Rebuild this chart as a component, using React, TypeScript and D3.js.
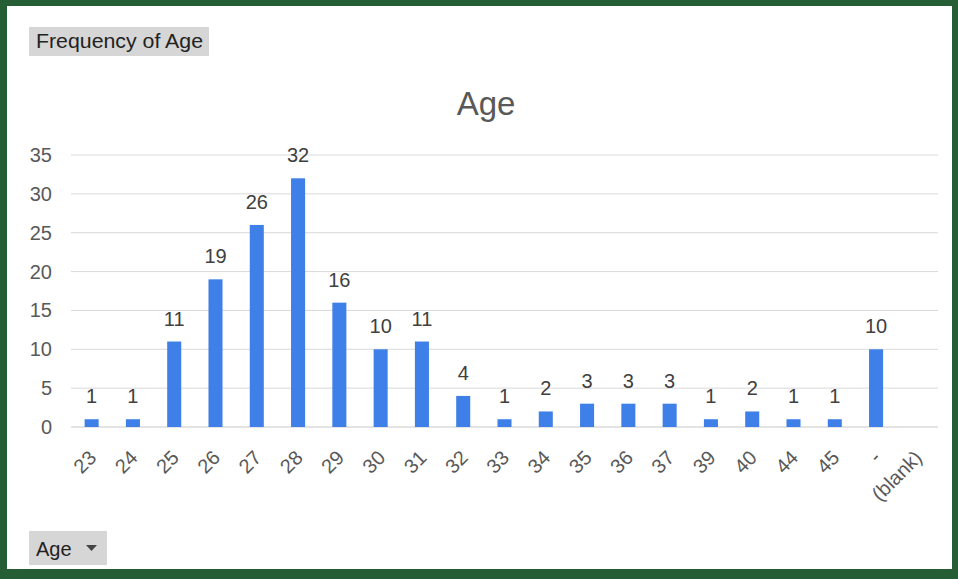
import React, { useEffect, useRef } from 'react';
import * as d3 from 'd3';

const categories = ['23', '24', '25', '26', '27', '28', '29', '30', '31', '32', '33', '34', '35', '36', '37', '39', '40', '44', '45', '-', '(blank)'];
const counts: (number | null)[] = [1, 1, 11, 19, 26, 32, 16, 10, 11, 4, 1, 2, 3, 3, 3, 1, 2, 1, 1, 10, null];
const yTicks = [0, 5, 10, 15, 20, 25, 30, 35];

const W = 958;
const H = 579;

const App: React.FC = () => {
  const svgRef = useRef<SVGSVGElement>(null);

  useEffect(() => {
    if (!svgRef.current) return;
    const svg = d3.select(svgRef.current);
    svg.selectAll('*').remove();

    const font = 'Arial, "Liberation Sans", sans-serif';

    // green frame + white panel
    svg.append('rect').attr('width', W).attr('height', H).attr('fill', '#255e35');
    svg.append('rect')
      .attr('x', 7).attr('y', 6)
      .attr('width', 945).attr('height', 563)
      .attr('fill', '#ffffff');

    // "Frequency of Age" field button
    svg.append('rect')
      .attr('x', 29).attr('y', 27).attr('width', 180).attr('height', 29)
      .attr('fill', '#d6d6d6');
    svg.append('text')
      .attr('x', 36).attr('y', 48)
      .attr('font-family', font).attr('font-size', 20)
      .attr('textLength', 167).attr('lengthAdjust', 'spacingAndGlyphs')
      .attr('fill', '#222').text('Frequency of Age');

    // title
    svg.append('text')
      .attr('x', 486).attr('y', 115)
      .attr('text-anchor', 'middle')
      .attr('font-family', font).attr('font-size', 33)
      .attr('fill', '#595959').text('Age');

    const margin = { top: 155, left: 71, right: 20, bottom: 152 };
    const innerW = W - margin.left - margin.right;
    const innerH = H - margin.top - margin.bottom;

    const x = d3.scaleBand<string>().domain(categories).range([0, innerW]).paddingInner(0.66).paddingOuter(0.33);
    const y = d3.scaleLinear().domain([0, 35]).range([innerH, 0]);

    const g = svg.append('g').attr('transform', `translate(${margin.left},${margin.top})`);

    // grid
    g.append('g')
      .selectAll('line')
      .data(yTicks)
      .enter()
      .append('line')
      .attr('x1', 0).attr('x2', innerW)
      .attr('y1', (d) => y(d)).attr('y2', (d) => y(d))
      .attr('stroke', (d) => (d === 0 ? '#c8c8c8' : '#d9d9d9'))
      .attr('stroke-width', 1);

    // y labels
    g.append('g')
      .selectAll('text')
      .data(yTicks)
      .enter()
      .append('text')
      .attr('x', -19)
      .attr('y', (d) => y(d) + 7)
      .attr('text-anchor', 'end')
      .attr('font-family', font).attr('font-size', 20)
      .attr('fill', '#595959')
      .text((d) => d);

    const data = categories.map((c, i) => ({ c, v: counts[i] }));

    // bars
    g.selectAll('.bar')
      .data(data.filter((d) => d.v !== null))
      .enter()
      .append('rect')
      .attr('class', 'bar')
      .attr('x', (d) => x(d.c)!)
      .attr('y', (d) => y(d.v as number))
      .attr('width', x.bandwidth())
      .attr('height', (d) => innerH - y(d.v as number))
      .attr('fill', '#3f7fe8');

    // data labels
    g.selectAll('.lbl')
      .data(data.filter((d) => d.v !== null))
      .enter()
      .append('text')
      .attr('class', 'lbl')
      .attr('x', (d) => x(d.c)! + x.bandwidth() / 2)
      .attr('y', (d) => y(d.v as number) - 16)
      .attr('text-anchor', 'middle')
      .attr('font-family', font).attr('font-size', 20)
      .attr('fill', '#404040')
      .text((d) => d.v as number);

    // x labels rotated
    g.append('g')
      .selectAll('text')
      .data(categories)
      .enter()
      .append('text')
      .attr('transform', (d) => `translate(${x(d)! + x.bandwidth() / 2 + 1},${innerH + 27}) rotate(-45)`)
      .attr('text-anchor', 'end')
      .attr('dy', '0.35em')
      .attr('font-family', font).attr('font-size', 20)
      .attr('fill', '#595959')
      .text((d) => d);

    // "Age" filter button
    svg.append('rect')
      .attr('x', 29).attr('y', 531).attr('width', 78).attr('height', 34)
      .attr('fill', '#d6d6d6');
    svg.append('text')
      .attr('x', 36).attr('y', 556)
      .attr('font-family', font).attr('font-size', 20)
      .attr('fill', '#222').text('Age');
    svg.append('path')
      .attr('d', 'M86,545 L97,545 L91.5,551 Z')
      .attr('fill', '#444');
  }, []);

  return (
    <svg
      ref={svgRef}
      width={W}
      height={H}
      style={{ position: 'absolute', left: 0, top: 0, display: 'block' }}
    />
  );
};

export default App;
